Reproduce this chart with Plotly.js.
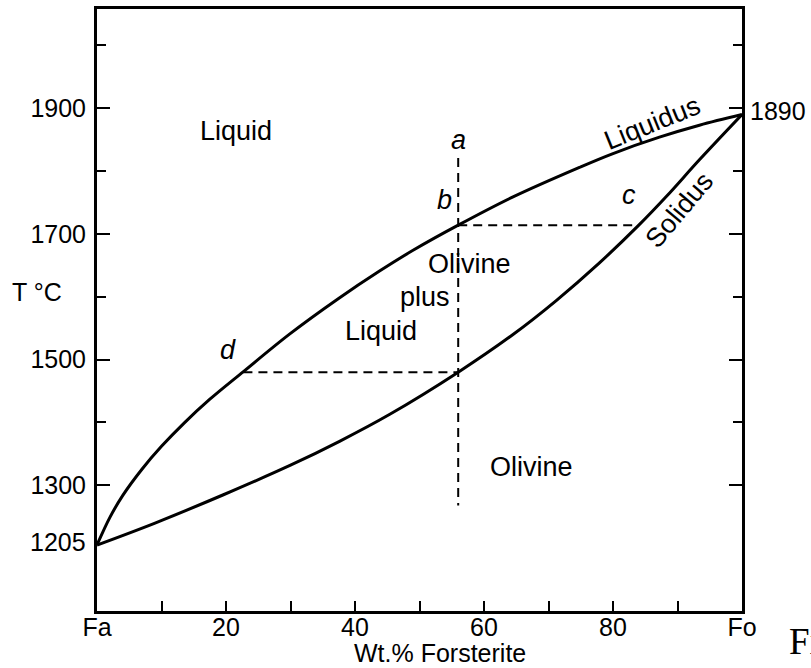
<!DOCTYPE html>
<html>
<head>
<meta charset="utf-8">
<script src="https://cdn.plot.ly/plotly-3.0.1.min.js"></script>
<style>html,body{margin:0;padding:0;background:#fff;}#chart{width:811px;height:668px;}</style>
</head>
<body>
<div id="chart"></div>
<script>
// Liquidus curve (wt.% Fo, °C)
const liquidusX = [0, 2, 4, 7, 10, 13.5, 17.5, 22.7, 29.9, 37.4, 43.8, 49, 56, 64.5, 74.8, 80, 87.2, 93.4, 100];
const liquidusT = [1205, 1249, 1284, 1326, 1362, 1399, 1437, 1481, 1541, 1597, 1641, 1674, 1714, 1759, 1806, 1828, 1854, 1873, 1890];
// Solidus curve
const solidusX = [0, 9, 19.6, 30, 37.6, 45.4, 56, 64.5, 71.2, 77.9, 84, 88.3, 93.4, 100];
const solidusT = [1205, 1240, 1285, 1332, 1370, 1413, 1480, 1540, 1594, 1654, 1714, 1760, 1818, 1890];
// Cooling path (vertical) and tie lines
const pathX = [56, 56];
const pathT = [1821, 1268];
const tie1X = [56, 84];
const tie1T = [1714, 1714];
const tie2X = [22.7, 56];
const tie2T = [1480, 1480];
// Axis ticks
const xTickVals = [0, 10, 20, 30, 40, 50, 60, 70, 80, 90, 100];
const xTickText = ["Fa", "", "20", "", "40", "", "60", "", "80", "", "Fo"];
const yTickVals = [1300, 1500, 1700, 1900];
const yMinorVals = [1400, 1600, 1800, 2000];
// Melting points
const meltFa = 1205;
const meltFo = 1890;

const FONT = '"Liberation Sans", Arial, Helvetica, sans-serif';

const solidLine = {color: '#000', width: 3, shape: 'spline', smoothing: 1};
const dashLine = {color: '#000', width: 2, dash: '9px,6px'};

const traces = [
  {x: liquidusX, y: liquidusT, mode: 'lines', line: solidLine, hoverinfo: 'skip', cliponaxis: false},
  {x: solidusX, y: solidusT, mode: 'lines', line: solidLine, hoverinfo: 'skip', cliponaxis: false},
  {x: pathX, y: pathT, mode: 'lines', line: dashLine, hoverinfo: 'skip'},
  {x: tie1X, y: tie1T, mode: 'lines', line: dashLine, hoverinfo: 'skip'},
  {x: tie2X, y: tie2T, mode: 'lines', line: dashLine, hoverinfo: 'skip'}
];

function lab(text, x, y, size, extra) {
  return Object.assign({text: text, x: x, y: y, xref: 'x', yref: 'y', showarrow: false,
    font: {family: FONT, size: size, color: '#000'}, xanchor: 'center', yanchor: 'middle'}, extra || {});
}

const annotations = [
  lab('Liquid', 21.5, 1864, 27),
  lab('<i>a</i>', 56.1, 1849, 27),
  lab('<i>b</i>', 53.8, 1754, 27),
  lab('<i>c</i>', 82.5, 1762, 27),
  lab('<i>d</i>', 20.3, 1515, 27),
  lab('Olivine', 57.8, 1653, 27),
  lab('plus', 50.8, 1600, 27),
  lab('Liquid', 44.1, 1546, 27),
  lab('Olivine', 67.3, 1329, 27),
  lab('Liquidus', 86.1, 1876, 27, {textangle: -22}),
  lab('Solidus', 90.3, 1738, 27, {textangle: -50}),
  lab(String(meltFa), 0, meltFa, 25, {xref: 'paper', xanchor: 'right', xshift: -9, yshift: 3}),
  lab(String(meltFo), 1, meltFo, 25, {xref: 'paper', xanchor: 'left', xshift: 6, yshift: 4}),
  lab('T °C', -0.093, 1607, 25, {xref: 'paper'}),
  lab('Wt.% Forsterite', 53.1, 0, 25, {yref: 'paper', yshift: -42}),
  lab('Fi', 1.0705, 0, 37, {xref: 'paper', yref: 'paper', xanchor: 'left', yshift: -30,
    font: {family: '"Liberation Serif", "Times New Roman", serif', size: 37, color: '#000'}})
];

const layout = {
  width: 811, height: 668,
  margin: {l: 97, r: 69, t: 9, b: 57, pad: 0},
  paper_bgcolor: '#fff', plot_bgcolor: '#fff',
  showlegend: false,
  font: {family: FONT, size: 25, color: '#000'},
  xaxis: {
    range: [0, 100], showgrid: false, zeroline: false,
    showline: true, linecolor: '#000', linewidth: 3, mirror: true,
    ticks: 'inside', ticklen: 10, tickwidth: 2, tickcolor: '#000',
    tickmode: 'array', tickvals: xTickVals, ticktext: xTickText,
    ticklabelstandoff: -8,
    tickfont: {family: FONT, size: 25, color: '#000'}
  },
  yaxis: {
    range: [1100, 2058], showgrid: false, zeroline: false,
    showline: true, linecolor: '#000', linewidth: 3, mirror: 'ticks',
    ticks: 'inside', ticklen: 13, tickwidth: 2, tickcolor: '#000',
    tickmode: 'array', tickvals: yTickVals, ticktext: yTickVals.map(String),
    ticklabelstandoff: 3,
    tickfont: {family: FONT, size: 25, color: '#000'},
    minor: {tickmode: 'array', tickvals: yMinorVals, ticks: 'inside', ticklen: 9, tickwidth: 2, tickcolor: '#000', showgrid: false}
  },
  annotations: annotations
};

Plotly.newPlot('chart', traces, layout, {staticPlot: true, displayModeBar: false});
</script>
</body>
</html>
